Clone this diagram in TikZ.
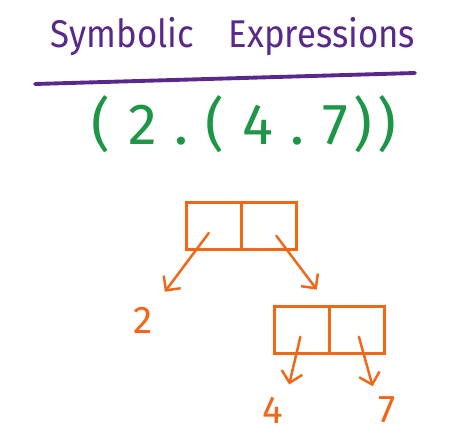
\documentclass[tikz,border=0pt]{standalone}
\usepackage{fontspec}
\setmainfont{Fira Sans}
\usepackage{xcolor}
\usetikzlibrary{positioning,arrows.meta}

\definecolor{titlepurple}{RGB}{88,40,140}
\definecolor{exprgreen}{RGB}{30,150,72}
\definecolor{consorange}{RGB}{242,102,24}

\tikzset{
    cell/.style={draw=consorange, line width=1.4pt, minimum width=1.1cm, minimum height=0.94cm, inner sep=0pt, outer sep=0pt},
    leaf/.style={text=consorange, font=\fontsize{22}{24}\selectfont, inner sep=2pt},
    ptr/.style={draw=consorange, line width=1.4pt, line cap=round, -{Straight Barb[length=6pt,width=12pt]}}
}
\newcommand{\gap}{\hspace{10pt}}

\begin{document}
\begin{tikzpicture}[x=0.02cm, y=-0.02cm]
    \useasboundingbox (0,0) rectangle (474,442);

    % Title
    \node[anchor=base, text=titlepurple, xscale=0.9, font=\fontsize{22}{26}\selectfont] (title) at (233,48) {Symbolic\quad Expressions};
    \draw[titlepurple, line width=2.2pt, line cap=round] (35,84) -- (415,73);

    % Expression
    \node[anchor=base, text=exprgreen, font=\fontsize{33}{36}\selectfont] (expr) at (244,145) {(\gap2\gap.\gap(\gap4\gap.\gap7\hspace{3pt})\hspace{3pt})};

    % Outer cons cell
    \node[cell] (topcar) at (214,226) {};
    \node[cell, right=0pt of topcar] (topcdr) {};

    % Inner cons cell
    \node[cell] (botcar) at (302,330) {};
    \node[cell, right=0pt of botcar] (botcdr) {};

    % Atoms
    \node[leaf] (two) at (143,320) {2};
    \node[leaf] (four) at (273,410) {4};
    \node[leaf] (seven) at (387,410) {7};

    % Pointers
    \draw[ptr, shorten <=5pt, shorten >=8pt] (topcar.center) -- (two.north east);
    \draw[ptr, shorten <=7pt, shorten >=12pt] (topcdr.center) -- (botcar.north east);
    \draw[ptr, shorten <=4pt, shorten >=5pt] (botcar.center) -- (four.north east);
    \draw[ptr, shorten <=4pt, shorten >=4pt] (botcdr.center) -- (seven.north west);
\end{tikzpicture}
\end{document}
